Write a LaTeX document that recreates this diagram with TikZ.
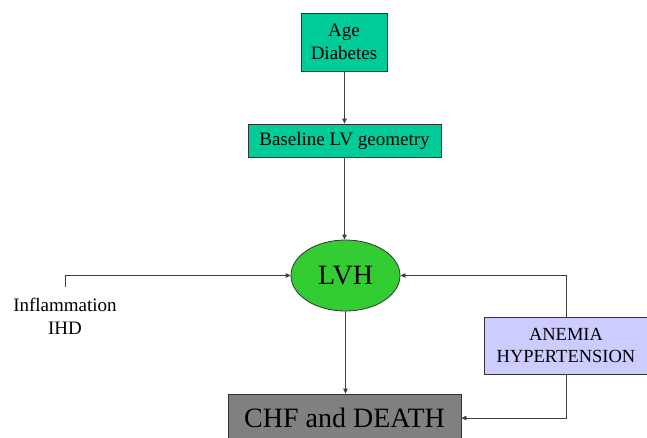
\documentclass[tikz,border=0pt]{standalone}
\usepackage{fontspec}
\setmainfont{Liberation Serif}
\usetikzlibrary{arrows.meta,shapes.geometric}
\definecolor{tealc}{RGB}{0,204,153}
\definecolor{lvhgreen}{RGB}{51,204,51}
\definecolor{chfgray}{RGB}{128,128,128}
\definecolor{lav}{RGB}{204,204,255}
\begin{document}
\begin{tikzpicture}[x=1pt,y=-1pt,
  box/.style={draw=black!80, line width=0.8pt, inner sep=0pt, align=center, font=\fontsize{19}{23}\selectfont},
  conn/.style={draw=black!75, line width=0.8pt, -{Triangle[length=5pt,width=4.5pt]}}]
\useasboundingbox (0,0) rectangle (647,437);
\node[box, fill=tealc, minimum width=86pt, minimum height=58pt] (age) at (344,42) {Age\\Diabetes};
\node[box, fill=tealc, minimum width=193pt, minimum height=33pt] (base) at (344.5,140.5) {Baseline LV geometry};
\node[ellipse, draw=black!80, line width=0.8pt, fill=lvhgreen, minimum width=109pt, minimum height=71pt, inner sep=0pt, font=\fontsize{28}{32}\selectfont] (lvh) at (345.5,275.5) {LVH};
\node[box, fill=chfgray, minimum width=233pt, minimum height=48pt, font=\fontsize{28}{32}\selectfont] (chf) at (344.5,418) {CHF and DEATH};
\node[box, fill=lav, minimum width=164pt, minimum height=57pt, font=\fontsize{18.5}{22}\selectfont] (anem) at (566,345.5) {ANEMIA\\HYPERTENSION};
\node[align=center, inner sep=0pt, font=\fontsize{19}{23}\selectfont] (infl) at (65,316) {Inflammation\\IHD};
\coordinate (lstart) at (65,287);
\draw[conn] (age.south -| base.north) -- (base.north);
\draw[conn] (base.south) -- (base.south |- lvh.north);
\draw[conn] (lvh.south) -- (lvh.south |- chf.north);
\draw[conn] (lstart) |- (lvh.west);
\draw[conn] (anem.north) |- (lvh.east);
\draw[conn] (anem.south) |- (chf.east);
\end{tikzpicture}
\end{document}
